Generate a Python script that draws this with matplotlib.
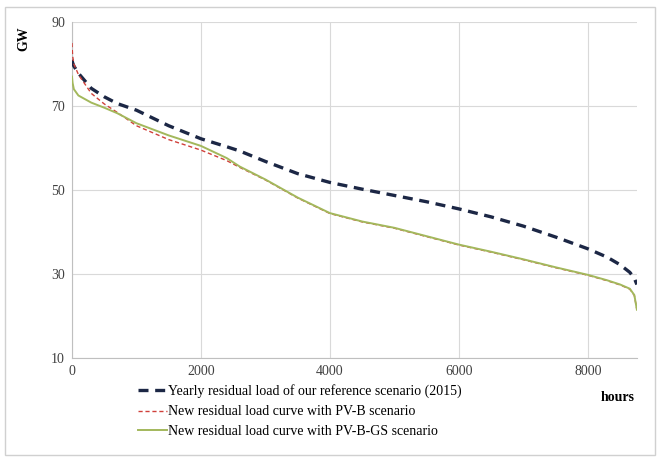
import matplotlib.pyplot as plt
from matplotlib.patches import Rectangle

plt.rcParams['font.family'] = ['Liberation Serif', 'DejaVu Serif']

# sorted hours of the year
hours = [0, 10, 30, 100, 300, 500, 700, 1000, 1500, 2000, 2400, 2600, 3000, 3500,
         4000, 4500, 5000, 5500, 6000, 6500, 7000, 7500, 8000, 8300, 8500, 8650,
         8720, 8760]

# residual load (GW)
ref_2015 = [81.0, 80.3, 79.5, 77.8, 74.2, 72.2, 70.6, 69.0, 65.3, 62.2, 60.3, 59.3,
            56.8, 53.9, 51.8, 50.2, 48.7, 47.2, 45.5, 43.6, 41.4, 38.8, 36.0, 34.0,
            32.2, 30.4, 29.0, 27.5]
pv_b = [85.0, 82.0, 80.0, 77.5, 73.0, 70.5, 68.5, 65.3, 62.0, 59.5, 57.0, 55.4,
        52.4, 48.1, 44.4, 42.4, 40.9, 38.9, 36.9, 35.2, 33.4, 31.5, 29.7, 28.4,
        27.4, 26.4, 24.9, 21.5]
pv_b_gs = [77.0, 75.5, 74.0, 72.5, 70.8, 69.6, 68.3, 65.9, 63.0, 60.5, 57.6, 55.6,
           52.5, 48.2, 44.5, 42.5, 41.0, 39.0, 37.0, 35.3, 33.5, 31.6, 29.8, 28.5,
           27.5, 26.5, 25.0, 21.5]

labels = ['Yearly residual load of our reference scenario (2015)',
          'New residual load curve with PV-B scenario',
          'New residual load curve with PV-B-GS scenario']

fig = plt.figure(figsize=(6.6, 4.61), dpi=100)
fig.patches.append(Rectangle((0.008, 0.012), 0.985, 0.972, transform=fig.transFigure,
                             fill=False, edgecolor='#d0d0d0', linewidth=1.0))
ax = fig.add_axes([0.109, 0.2234, 0.856, 0.7289])

ax.plot(hours, ref_2015, color='#1c2745', lw=2.4, ls=(0, (3, 2)), label=labels[0], zorder=3)
ax.plot(hours, pv_b, color='#d0403a', lw=1.0, ls=(0, (3, 2)), label=labels[1], zorder=4)
ax.plot(hours, pv_b_gs, color='#a3b85c', lw=1.4, label=labels[2], zorder=5)

ax.set_xlim(0, 8760)
ax.set_ylim(10, 90)
ax.set_xticks([0, 2000, 4000, 6000, 8000])
ax.set_yticks([10, 30, 50, 70, 90])
ax.grid(True, color='#d9d9d9', lw=0.8)
ax.set_axisbelow(True)
for s in ['top', 'right']:
    ax.spines[s].set_visible(False)
for s in ['left', 'bottom']:
    ax.spines[s].set_color('#bfbfbf')
ax.tick_params(length=0, labelsize=10, colors='#404040', pad=5)

fig.text(0.036, 0.915, 'GW', rotation=90, fontsize=10, fontweight='bold',
         ha='center', va='center')
fig.text(0.91, 0.138, 'hours', fontsize=10, fontweight='bold', ha='left', va='center')

leg = fig.legend(loc='upper left', bbox_to_anchor=(0.2, 0.178), frameon=False,
                 fontsize=10, handlelength=2.1, handletextpad=0.1, labelspacing=0.5,
                 borderaxespad=0)

fig.savefig('out.png', dpi=100)
